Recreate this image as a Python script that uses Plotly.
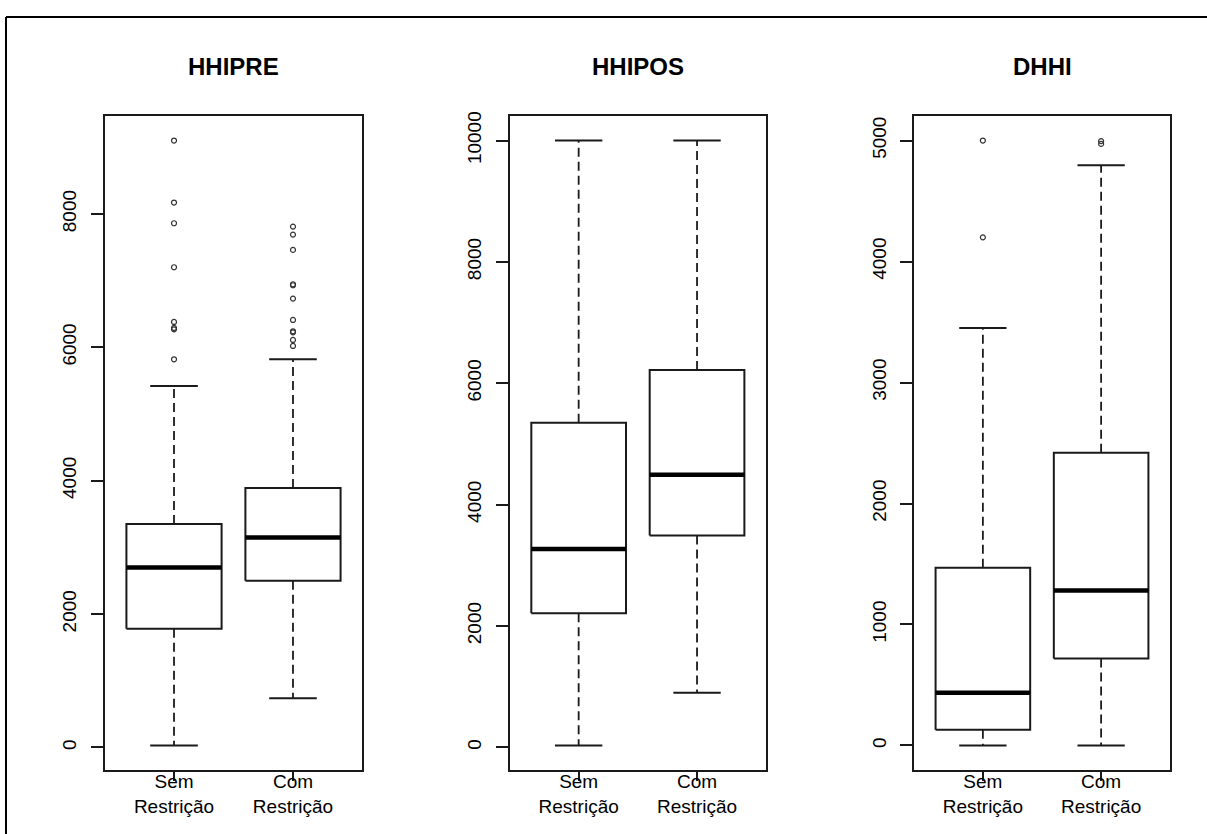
import plotly.graph_objects as go

# ---------------- data ----------------
panels = ["HHIPRE", "HHIPOS", "DHHI"]
group_labels = ["Sem<br>Restrição", "Com<br>Restrição"]
group_pos = [1, 2]

# each list: [Sem Restrição, Com Restrição]
lower_whisker = {"HHIPRE": [30, 740], "HHIPOS": [30, 900], "DHHI": [0, 0]}
q1 = {"HHIPRE": [1780, 2500], "HHIPOS": [2210, 3490], "DHHI": [130, 720]}
median = {"HHIPRE": [2700, 3150], "HHIPOS": [3270, 4490], "DHHI": [435, 1280]}
q3 = {"HHIPRE": [3350, 3890], "HHIPOS": [5350, 6220], "DHHI": [1470, 2420]}
upper_whisker = {"HHIPRE": [5420, 5820], "HHIPOS": [10000, 10000], "DHHI": [3450, 4795]}

outliers_sem = {
    "HHIPRE": [9100, 8170, 7860, 7200, 6380, 6290, 6270, 5820],
    "HHIPOS": [],
    "DHHI": [5000, 4200],
}
outliers_com = {
    "HHIPRE": [7810, 7690, 7460, 6945, 6930, 6730, 6410, 6240, 6225, 6110, 6020],
    "HHIPOS": [],
    "DHHI": [4995, 4972],
}

y_ticks = {
    "HHIPRE": [0, 2000, 4000, 6000, 8000],
    "HHIPOS": [0, 2000, 4000, 6000, 8000, 10000],
    "DHHI": [0, 1000, 2000, 3000, 4000, 5000],
}

# ---------------- layout geometry ----------------
W, H = 1207, 834
x_domains = [(105 / W, 362 / W), (510 / W, 765.7 / W), (914.3 / W, 1169.7 / W)]
y_domain = (1 - 769.3 / H, 1 - 112 / H)

box_w = 0.8
cap_w = 0.4
ink = "#1a1a1a"
font_family = "Liberation Sans, Arial, sans-serif"

fig = go.Figure()

for i, name in enumerate(panels):
    xa = "x" if i == 0 else f"x{i+1}"
    ya = "y" if i == 0 else f"y{i+1}"
    outs = [outliers_sem[name], outliers_com[name]]
    for j, c in enumerate(group_pos):
        lo, a, m, b, up = (lower_whisker[name][j], q1[name][j], median[name][j],
                           q3[name][j], upper_whisker[name][j])
        # whiskers (dashed), drawn from the box outward
        for y0, y1 in ((b, up), (a, lo)):
            fig.add_trace(go.Scatter(x=[c, c], y=[y0, y1], mode="lines", xaxis=xa, yaxis=ya,
                                     line=dict(color=ink, width=1.8, dash="9px,5px"),
                                     hoverinfo="skip"))
        # staples
        for yy in (up, lo):
            fig.add_trace(go.Scatter(x=[c - cap_w / 2, c + cap_w / 2], y=[yy, yy], mode="lines",
                                     xaxis=xa, yaxis=ya, line=dict(color=ink, width=2),
                                     hoverinfo="skip"))
        # box
        fig.add_trace(go.Scatter(
            x=[c - box_w / 2, c + box_w / 2, c + box_w / 2, c - box_w / 2, c - box_w / 2],
            y=[a, a, b, b, a], mode="lines", fill="toself", fillcolor="white",
            xaxis=xa, yaxis=ya, line=dict(color=ink, width=2), hoverinfo="skip"))
        # median
        fig.add_trace(go.Scatter(x=[c - box_w / 2, c + box_w / 2], y=[m, m], mode="lines",
                                 xaxis=xa, yaxis=ya, line=dict(color="black", width=4.5),
                                 hoverinfo="skip"))
        # outliers
        if outs[j]:
            fig.add_trace(go.Scatter(x=[c] * len(outs[j]), y=outs[j], mode="markers",
                                     xaxis=xa, yaxis=ya,
                                     marker=dict(symbol="circle-open", size=5, color="#333333",
                                                 line=dict(width=1.2, color="#333333")),
                                     hoverinfo="skip"))

    vals = (lower_whisker[name] + upper_whisker[name] + outliers_sem[name] + outliers_com[name])
    vmin, vmax = min(vals), max(vals)
    pad = 0.04 * (vmax - vmin)

    axis_common = dict(showline=True, mirror=True, linecolor=ink, linewidth=2,
                       showgrid=False, zeroline=False, ticks="outside", tickcolor=ink,
                       tickwidth=2, tickfont=dict(family=font_family, size=19, color="black"))
    fig.layout[f"xaxis{'' if i == 0 else i+1}"] = dict(
        axis_common, domain=list(x_domains[i]), range=[0.42, 2.58],
        tickvals=group_pos, ticktext=group_labels, ticklen=9, ticklabelstandoff=-15,
        anchor=ya)
    fig.layout[f"yaxis{'' if i == 0 else i+1}"] = dict(
        axis_common, domain=list(y_domain), range=[vmin - pad, vmax + pad],
        tickvals=y_ticks[name], ticktext=[str(t) for t in y_ticks[name]],
        tickangle=-90, ticklen=12, ticklabelstandoff=7, anchor=xa)

    fig.add_annotation(text=f"<b>{name}</b>", xref="paper", yref="paper",
                       x=sum(x_domains[i]) / 2, y=1 - 62 / H, xanchor="center",
                       yanchor="middle", showarrow=False,
                       font=dict(family=font_family, size=24, color="black"))

# outer frame edges (left and top) as in the reference
fig.add_shape(type="line", xref="paper", yref="paper", x0=6 / W, x1=1, y0=1 - 12 / H, y1=1 - 12 / H,
              line=dict(color="black", width=2))
fig.add_shape(type="line", xref="paper", yref="paper", x0=6 / W, x1=6 / W, y0=0, y1=1 - 12 / H,
              line=dict(color="black", width=2))

fig.update_layout(width=W, height=H, margin=dict(l=0, r=0, t=0, b=0),
                  paper_bgcolor="white", plot_bgcolor="white", showlegend=False)

fig.write_html("out.html", config={"displayModeBar": False},
               post_script="document.body.style.margin='0';document.body.style.overflow='hidden';")
